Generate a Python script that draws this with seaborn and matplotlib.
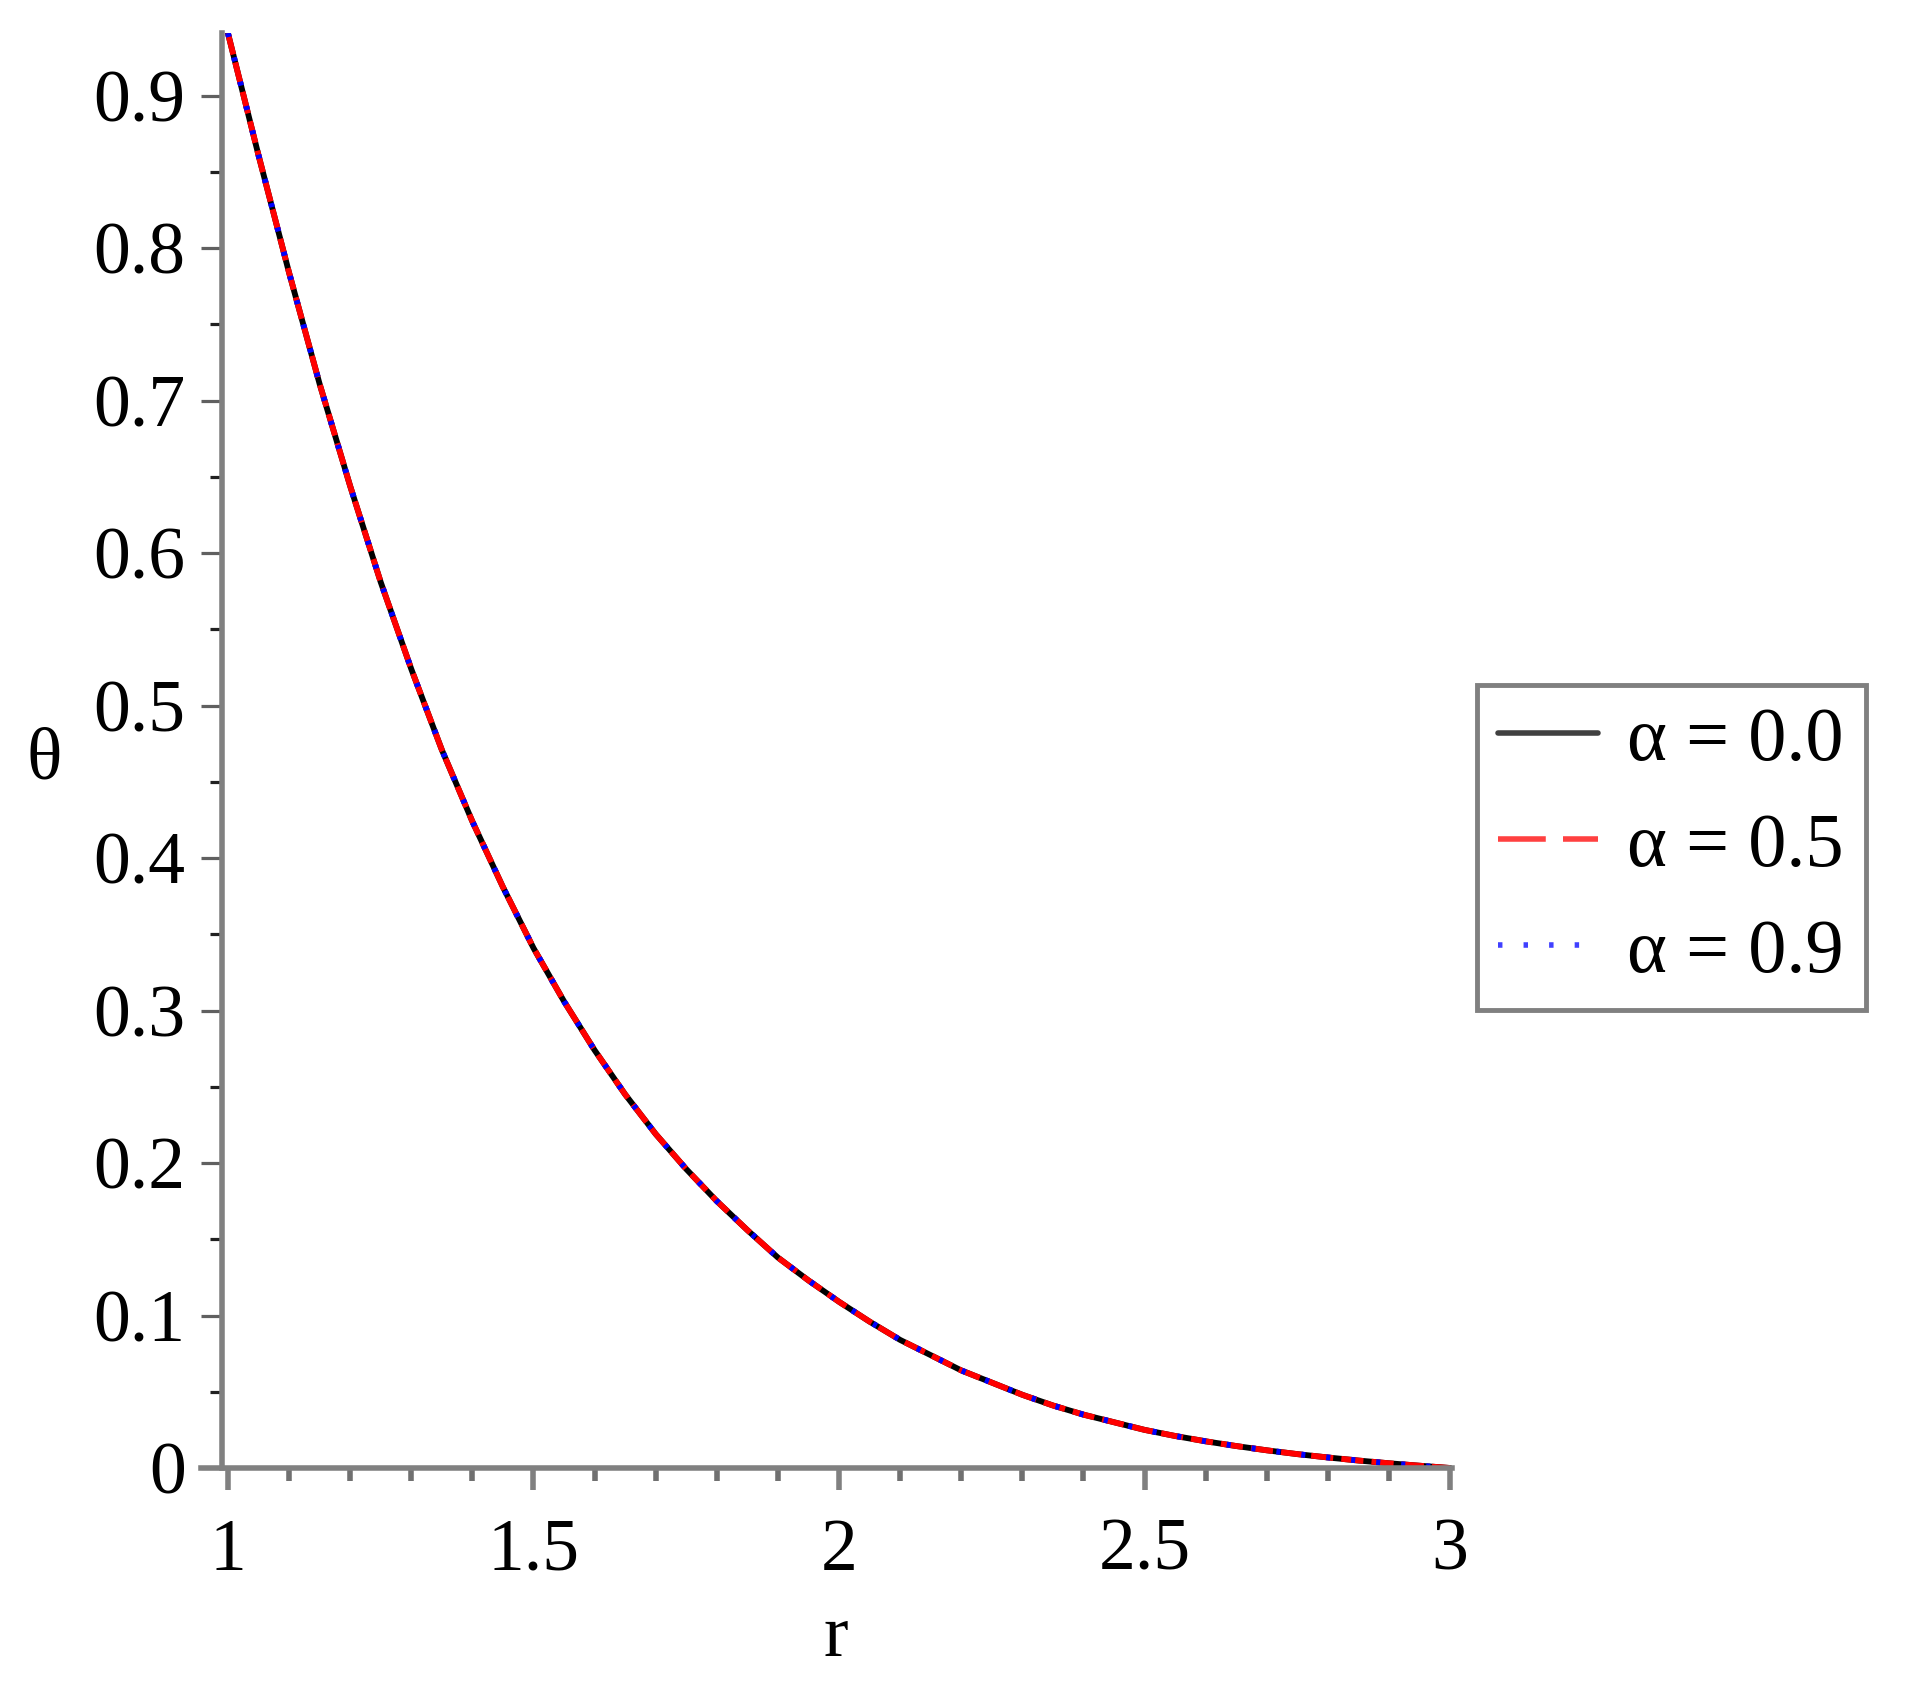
import numpy as np
import pandas as pd
import matplotlib
matplotlib.use("Agg")
import matplotlib.pyplot as plt
import seaborn as sns
from matplotlib.ticker import FixedLocator

# values: the three alpha curves lie on top of each other
r_vals = [1.00, 1.05, 1.10, 1.15, 1.20, 1.25, 1.30, 1.35, 1.40, 1.45,
          1.50, 1.55, 1.60, 1.65, 1.70, 1.75, 1.80, 1.85, 1.90, 1.95,
          2.00, 2.05, 2.10, 2.15, 2.20, 2.25, 2.30, 2.35, 2.40, 2.45,
          2.50, 2.55, 2.60, 2.65, 2.70, 2.75, 2.80, 2.85, 2.90, 2.95, 3.00]
theta_vals = [0.941, 0.861, 0.784, 0.711, 0.644, 0.581, 0.524, 0.471, 0.424, 0.381,
              0.341, 0.306, 0.274, 0.245, 0.219, 0.196, 0.175, 0.156, 0.138, 0.123,
              0.109, 0.096, 0.084, 0.074, 0.064, 0.056, 0.048, 0.041, 0.035, 0.030,
              0.025, 0.021, 0.0175, 0.0144, 0.0116, 0.0091, 0.0069, 0.0049, 0.0031,
              0.0015, 0.000]
alpha_labels = ["α = 0.0", "α = 0.5", "α = 0.9"]
line_colors = ["black", "red", "blue"]

df = pd.concat([pd.DataFrame({"r": r_vals, "theta": theta_vals, "alpha": lab})
                for lab in alpha_labels], ignore_index=True)

sns.set_style("white")
plt.rcParams["font.family"] = ["Liberation Serif", "DejaVu Serif"]
plt.rcParams["text.color"] = "black"
plt.rcParams["xtick.labelcolor"] = "black"
plt.rcParams["ytick.labelcolor"] = "black"

fig = plt.figure(figsize=(19.1, 16.88), dpi=100)
ax = fig.add_axes([201 / 1910, 1 - 1468 / 1688, 1251 / 1910, 1435 / 1688])

lw = 4.2
sns.lineplot(data=df, x="r", y="theta", hue="alpha", style="alpha",
             hue_order=alpha_labels, style_order=alpha_labels,
             palette=dict(zip(alpha_labels, line_colors)),
             dashes={alpha_labels[0]: "", alpha_labels[1]: (3.8, 1.4),
                     alpha_labels[2]: (0.7, 3.6)},
             linewidth=lw, legend=False, ax=ax)

ax.set_xlim(0.956, 3.003)
ax.set_ylim(0, 0.941)

ax.spines["top"].set_visible(False)
ax.spines["right"].set_visible(False)
ax.spines["left"].set_position(("data", 0.99))
for s in ["left", "bottom"]:
    ax.spines[s].set_color("#808080")
    ax.spines[s].set_linewidth(4)

ax.xaxis.set_major_locator(FixedLocator([1, 1.5, 2, 2.5, 3]))
ax.set_xticklabels(["1", "1.5", "2", "2.5", "3"])
ax.xaxis.set_minor_locator(FixedLocator(np.round(np.arange(1.1, 3.0, 0.1), 2)))
ax.yaxis.set_major_locator(FixedLocator(np.round(np.arange(0, 0.95, 0.1), 2)))
ax.set_yticklabels(["0"] + ["0.%d" % i for i in range(1, 10)])
ax.yaxis.set_minor_locator(FixedLocator(np.round(np.arange(0.05, 0.95, 0.1), 2)))

ax.tick_params(axis="x", which="both", bottom=True)
ax.tick_params(axis="y", which="both", left=True)
ax.tick_params(axis="x", which="major", direction="out", length=16, width=4,
               color="#808080", labelsize=53, pad=20, labelcolor="black")
ax.tick_params(axis="x", which="minor", direction="out", length=9, width=4,
               color="#707070")
ax.tick_params(axis="y", which="major", direction="out", length=15, width=2.3,
               color="#606060", labelsize=53, pad=11, labelcolor="black")
ax.tick_params(axis="y", which="minor", direction="out", length=8.5, width=2.3,
               color="#202020")

ax.set_xlabel("r", fontsize=53, color="black")
ax.xaxis.set_label_coords(0.5076, -0.1185)
ax.xaxis.label.set_va("center")
ax.set_ylabel("θ", fontsize=53, rotation=0, color="black")
ax.yaxis.set_label_coords(-0.125, 0.4927)
ax.yaxis.label.set_va("center")
ax.yaxis.label.set_ha("center")

leg = ax.legend(ax.lines[:3], alpha_labels, loc="upper left",
                bbox_to_anchor=(1477 / 1910, 1 - 685 / 1688),
                bbox_transform=fig.transFigure, fontsize=55, frameon=True,
                fancybox=False, borderaxespad=0, borderpad=0.28,
                handlelength=1.31, handletextpad=0.38, labelspacing=0.48)
frame = leg.get_frame()
frame.set_edgecolor("#808080")
frame.set_linewidth(3.5)
frame.set_facecolor("white")
frame.set_alpha(1)
for txt in leg.get_texts():
    txt.set_color("black")
leg_lines = leg.get_lines()
leg_lines[0].set_color("#404040")
leg_lines[1].set_color("#ff4040")
leg_lines[1].set_dashes((8.6, 3.1))
leg_lines[2].set_color("#4040ff")
leg_lines[2].set_dashes((0.8, 3.8))
for ln in leg_lines:
    ln.set_linewidth(4)

fig.savefig("out.png", dpi=100, facecolor="white")
